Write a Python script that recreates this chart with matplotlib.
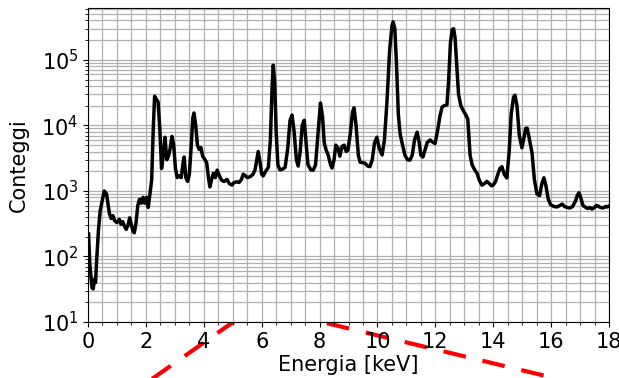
import matplotlib
matplotlib.use("Agg")
import matplotlib.pyplot as plt
from matplotlib.lines import Line2D
from matplotlib.ticker import MultipleLocator

# spectrum (energy in keV, counts)
energia = [0.02, 0.06, 0.1, 0.14, 0.18, 0.22, 0.26, 0.3, 0.36, 0.42, 0.5, 0.56, 0.6, 0.64, 0.7, 0.74,
           0.8, 0.86, 0.92, 1.0, 1.08, 1.14, 1.2, 1.26, 1.32, 1.38, 1.44, 1.5, 1.56, 1.6, 1.66, 1.72,
           1.78, 1.84, 1.9, 1.96, 2.02, 2.08, 2.14, 2.2, 2.25, 2.3, 2.36, 2.42, 2.48, 2.54, 2.6, 2.66,
           2.72, 2.78, 2.84, 2.9, 2.96, 3.02, 3.08, 3.16, 3.22, 3.28, 3.32, 3.38, 3.44, 3.5, 3.56, 3.62,
           3.66, 3.72, 3.78, 3.84, 3.9, 3.96, 4.04, 4.1, 4.16, 4.21, 4.27, 4.33, 4.4, 4.46, 4.54, 4.62,
           4.7, 4.8, 4.88, 4.97, 5.05, 5.14, 5.22, 5.3, 5.36, 5.44, 5.5, 5.6, 5.7, 5.77, 5.82, 5.88,
           5.94, 6.0, 6.05, 6.14, 6.23, 6.3, 6.36, 6.4, 6.45, 6.5, 6.56, 6.63, 6.72, 6.81, 6.9, 6.98,
           7.05, 7.12, 7.2, 7.26, 7.33, 7.4, 7.47, 7.54, 7.6, 7.7, 7.78, 7.86, 7.95, 8.03, 8.1, 8.16,
           8.22, 8.3, 8.38, 8.43, 8.5, 8.56, 8.64, 8.7, 8.78, 8.85, 8.92, 8.98, 9.06, 9.14, 9.19, 9.26,
           9.34, 9.4, 9.5, 9.57, 9.66, 9.74, 9.82, 9.9, 9.98, 10.06, 10.16, 10.24, 10.33, 10.42, 10.5, 10.54,
           10.6, 10.66, 10.72, 10.78, 10.85, 10.95, 11.04, 11.12, 11.2, 11.28, 11.37, 11.44, 11.5, 11.57, 11.64, 11.72,
           11.82, 11.9, 11.99, 12.08, 12.16, 12.23, 12.3, 12.4, 12.46, 12.52, 12.58, 12.63, 12.68, 12.74, 12.8, 12.88,
           12.96, 13.05, 13.12, 13.2, 13.27, 13.36, 13.44, 13.52, 13.61, 13.7, 13.78, 13.86, 13.94, 14.0, 14.08, 14.16,
           14.23, 14.3, 14.38, 14.47, 14.55, 14.62, 14.7, 14.75, 14.82, 14.9, 14.99, 15.06, 15.12, 15.17, 15.24, 15.34,
           15.42, 15.51, 15.6, 15.68, 15.75, 15.82, 15.9, 15.98, 16.03, 16.1, 16.2, 16.3, 16.38, 16.46, 16.56, 16.65,
           16.74, 16.84, 16.9, 16.96, 17.02, 17.1, 17.17, 17.26, 17.34, 17.41, 17.5, 17.56, 17.62, 17.7, 17.8, 17.88,
           17.94, 18.0]
conteggi = [220, 80, 50, 33, 32, 45, 40, 90, 250, 500, 750, 1000, 950, 900, 600, 450,
            380, 420, 350, 330, 370, 310, 340, 290, 260, 300, 390, 300, 240, 230, 330, 600,
            750, 650, 800, 650, 800, 560, 900, 1500, 8000, 28000, 25000, 23000, 9000, 2200, 3500, 6600,
            3000, 3400, 4500, 6800, 5000, 2200, 1600, 1700, 1600, 2600, 3300, 1600, 1400, 1800, 4500, 13000,
            15500, 10000, 5000, 4300, 4600, 3400, 3000, 2700, 1600, 1150, 1500, 1860, 1600, 2080, 1700, 1450,
            1400, 1500, 1300, 1230, 1350, 1380, 1350, 1500, 1800, 1700, 1600, 1650, 1800, 2100, 2800, 4000,
            2800, 1800, 1700, 2000, 2300, 6000, 40000, 83000, 45000, 8000, 2500, 2100, 2150, 2300, 4500, 12000,
            14400, 8000, 3000, 2400, 4000, 10000, 12000, 5000, 2500, 2100, 2080, 2500, 8000, 22000, 14000, 5500,
            4300, 3500, 2500, 2240, 3000, 5000, 4500, 3400, 4800, 5000, 4000, 4200, 7500, 16000, 18600, 10000,
            3500, 2750, 2700, 2650, 2400, 2350, 3000, 5500, 6600, 4500, 3550, 6000, 24000, 140000, 330000, 380000,
            300000, 80000, 15000, 7500, 5400, 3500, 3000, 2960, 3500, 6000, 7900, 5500, 3500, 3300, 4200, 5500,
            6000, 5600, 5300, 8500, 14000, 19000, 20000, 20500, 50000, 180000, 290000, 300000, 220000, 80000, 30000, 20000,
            17000, 14500, 12500, 3500, 2500, 2100, 1860, 1450, 1230, 1300, 1400, 1300, 1200, 1230, 1400, 1800,
            2200, 2350, 1800, 1580, 4000, 15000, 27000, 29000, 20000, 7000, 4560, 6500, 9000, 9100, 6500, 3800,
            1500, 900, 850, 1300, 1590, 1200, 750, 620, 600, 580, 570, 600, 630, 580, 560, 550,
            580, 700, 850, 940, 800, 600, 570, 540, 560, 530, 560, 600, 590, 560, 550, 580,
            570, 590]

# red dashed guide, mostly hidden behind the axes
guida_x = [1.67, 5.80, 18.38]
guida_y = [0.92, 17.5, 0.80]

fig = plt.figure(figsize=(6.19, 3.78), dpi=100)
ax = fig.add_axes([0.1422, 0.1481, 0.8417, 0.8307])

ax.plot(energia, conteggi, color="black", lw=2.5)
ax.set_yscale("log")
ax.set_xlim(0, 18)
ax.set_ylim(10, 6.2e5)
ax.xaxis.set_major_locator(MultipleLocator(2))
ax.xaxis.set_minor_locator(MultipleLocator(0.5))
ax.grid(True, which="both", color="#b0b0b0", lw=0.9)
ax.set_axisbelow(True)
ax.tick_params(labelsize=15)
ax.set_xlabel("Energia [keV]", fontsize=15, labelpad=2)
ax.set_ylabel("Conteggi", fontsize=15, labelpad=9)

guida = Line2D(guida_x, guida_y, transform=ax.transData, color="red", lw=3,
               linestyle=(0, (5.5, 4.1)), zorder=-1)
fig.add_artist(guida)

fig.savefig("out.png", dpi=100)
